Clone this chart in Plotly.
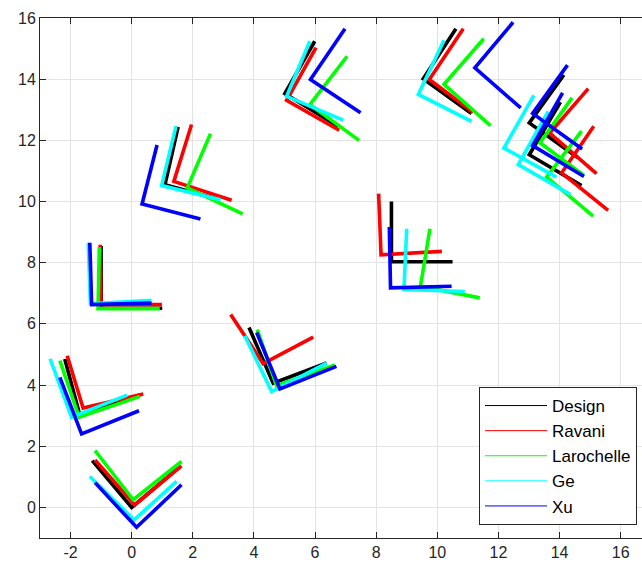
import plotly.graph_objects as go

series_names = ["Design", "Ravani", "Larochelle", "Ge", "Xu"]
series_colors = ["#000000", "#ff0000", "#00ff00", "#00ffff", "#0000ff"]

# Each frame: [end of first leg, corner, end of second leg]
design_x = [[-1.29, 0.0, 1.53], [-2.19, -1.70, 0.27], [-1.0, -1.0, 1.0], [1.52, 1.09, 2.89],
            [3.84, 4.63, 6.38], [5.99, 5.01, 6.76], [8.5, 8.5, 10.5], [10.61, 9.54, 11.12],
            [14.14, 13.01, 14.59], [14.03, 13.01, 14.72]]
design_y = [[1.53, 0.0, 1.29], [4.85, 3.03, 3.68], [8.55, 6.52, 6.51], [12.44, 10.55, 10.06],
            [5.88, 4.06, 4.72], [15.24, 13.53, 12.46], [10.0, 8.03, 8.03], [15.65, 14.01, 12.88],
            [14.14, 12.57, 11.44], [13.25, 11.53, 10.52]]

ravani_x = [[-1.2, 0.1, 1.63], [-2.11, -1.59, 0.38], [-1.03, -1.01, 0.99], [1.96, 1.38, 3.27],
            [3.24, 4.30, 5.94], [6.03, 5.07, 6.79], [8.08, 8.16, 10.15], [10.85, 9.74, 11.17],
            [14.94, 13.68, 15.21], [15.12, 14.07, 15.59]]
ravani_y = [[1.55, 0.08, 1.36], [4.96, 3.25, 3.71], [8.59, 6.63, 6.63], [12.52, 10.66, 10.04],
            [6.31, 4.70, 5.57], [15.03, 13.31, 12.33], [10.26, 8.26, 8.37], [15.65, 13.99, 12.92],
            [13.69, 12.24, 10.91], [12.46, 10.94, 9.71]]

larochelle_x = [[-1.2, 0.05, 1.63], [-2.35, -1.72, 0.27], [-1.06, -1.10, 0.92], [2.58, 1.82, 3.63],
                [4.11, 4.74, 6.65], [7.05, 5.83, 7.44], [9.76, 9.45, 11.39], [11.52, 10.22, 11.74],
                [14.41, 13.36, 14.80], [14.72, 13.58, 15.10]]
larochelle_y = [[1.86, 0.25, 1.50], [4.80, 2.95, 3.63], [8.51, 6.50, 6.50], [12.22, 10.45, 9.60],
                [5.81, 3.98, 4.66], [14.75, 13.17, 12.0], [9.11, 7.23, 6.85], [15.32, 13.83, 12.48],
                [13.39, 11.92, 10.85], [12.30, 10.80, 9.52]]

ge_x = [[-1.37, 0.08, 1.47], [-2.67, -1.97, -0.15], [-1.42, -1.35, 0.65], [1.45, 0.98, 2.91],
        [3.70, 4.58, 6.38], [5.83, 5.07, 6.92], [9.0, 8.91, 10.90], [10.22, 9.38, 11.12],
        [13.16, 12.18, 13.90], [13.63, 12.65, 14.36]]
ge_y = [[1.01, -0.41, 0.85], [4.86, 2.95, 3.67], [8.65, 6.66, 6.77], [12.46, 10.52, 10.06],
        [5.61, 3.79, 4.72], [15.24, 13.44, 12.66], [9.11, 7.12, 7.06], [15.27, 13.50, 12.62],
        [13.47, 11.75, 10.80], [12.95, 11.21, 10.23]]

xu_x = [[-1.2, 0.16, 1.63], [-2.35, -1.64, 0.24], [-1.37, -1.31, 0.65], [0.83, 0.34, 2.25],
        [4.09, 4.85, 6.70], [6.98, 5.85, 7.49], [8.43, 8.47, 10.47], [12.48, 11.23, 12.73],
        [14.26, 13.12, 14.74], [14.10, 13.12, 14.80]]
xu_y = [[0.81, -0.65, 0.74], [4.25, 2.40, 3.16], [8.65, 6.63, 6.68], [11.85, 9.92, 9.43],
        [5.72, 3.87, 4.61], [15.65, 13.99, 12.90], [9.17, 7.18, 7.23], [15.86, 14.37, 13.06],
        [14.46, 12.88, 11.72], [13.55, 11.83, 10.82]]

x_ticks = [-2, 0, 2, 4, 6, 8, 10, 12, 14, 16]
y_ticks = [0, 2, 4, 6, 8, 10, 12, 14, 16]

all_x = [design_x, ravani_x, larochelle_x, ge_x, xu_x]
all_y = [design_y, ravani_y, larochelle_y, ge_y, xu_y]


def flatten(frames):
    out = []
    for f in frames:
        out.extend(f)
        out.append(None)
    return out


fig = go.Figure()
for name, color, fx, fy in zip(series_names, series_colors, all_x, all_y):
    fig.add_trace(go.Scatter(x=flatten(fx), y=flatten(fy), mode="lines",
                             line=dict(color=color, width=3.6), showlegend=False,
                             hoverinfo="skip"))
for name, color in zip(series_names, series_colors):
    fig.add_trace(go.Scatter(x=[None], y=[None], mode="lines", name=name,
                             line=dict(color=color, width=1)))

axis_color = "#262626"
grid_color = "#e3e3e3"
font_family = "Liberation Sans, Arial, sans-serif"

fig.update_layout(
    width=642, height=570,
    margin=dict(l=40, r=0, t=18, b=32),
    paper_bgcolor="white", plot_bgcolor="white",
    font=dict(family=font_family, size=16, color=axis_color),
    xaxis=dict(range=[-3, -3 + 602 / 30.56], tickvals=x_ticks, ticktext=[str(v) for v in x_ticks],
               showgrid=True, gridcolor=grid_color, gridwidth=1, zeroline=False,
               showline=True, linecolor=axis_color, linewidth=1, mirror="ticks",
               ticks="inside", ticklen=6, tickcolor=axis_color, tickfont=dict(size=16)),
    yaxis=dict(range=[-1, 16], tickvals=y_ticks, ticktext=[str(v) for v in y_ticks],
               showgrid=True, gridcolor=grid_color, gridwidth=1, zeroline=False,
               showline=True, linecolor=axis_color, linewidth=1,
               ticks="inside", ticklen=6, tickcolor=axis_color, tickfont=dict(size=16)),
    legend=dict(x=(637 - 40) / 602, y=(538 - 525) / 520, xanchor="right", yanchor="bottom",
                bgcolor="white", bordercolor=axis_color, borderwidth=1,
                font=dict(size=17, color="#000000"), itemwidth=62,
                tracegroupgap=0),
)

fig.write_html("out.html")
